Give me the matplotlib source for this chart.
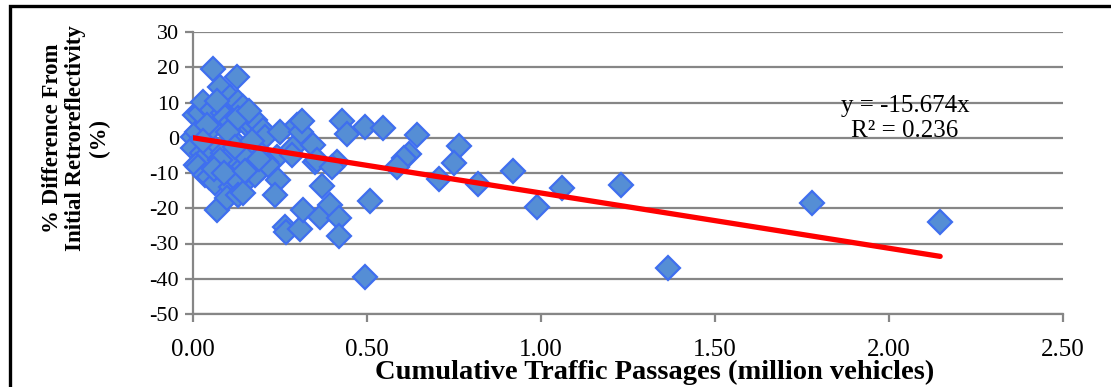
import numpy as np
import matplotlib.pyplot as plt
from matplotlib.patches import Rectangle

# Cumulative traffic passages (million vehicles) and % difference
passages = [
    0.000, 0.006, 0.011, 0.020, 0.030, 0.050, 0.058, 0.055, 0.058, 0.078,
    0.086, 0.092, 0.106, 0.110, 0.126, 0.130, 0.144, 0.164, 0.170, 0.178,
    0.200, 0.207, 0.115, 0.000, 0.025, 0.086, 0.184, 0.240, 0.020, 0.010,
    0.015, 0.135, 0.200, 0.210, 0.034, 0.045, 0.063, 0.110, 0.140, 0.178,
    0.215, 0.244, 0.126, 0.236, 0.068, 0.098, 0.130, 0.144, 0.110, 0.078,
    0.155, 0.287, 0.250, 0.300, 0.310, 0.313, 0.345, 0.285, 0.350, 0.356,
    0.414, 0.400, 0.370, 0.264, 0.268, 0.307, 0.316, 0.365, 0.394, 0.420,
    0.420, 0.494, 0.509, 0.428, 0.442, 0.494, 0.546, 0.645, 0.620, 0.605,
    0.586, 0.765, 0.750, 0.707, 0.820, 0.920, 0.988, 1.060, 1.230, 1.365,
    1.780, 2.147, 0.040, 0.070, 0.100, 0.120, 0.060, 0.090, 0.150, 0.170,
    0.190, 0.030, 0.130, 0.160,
]
pct_diff = [
    0.3, 6.5, 1.7, 7.0, 10.2, -1.4, 3.0, 8.0, 19.6, 14.5,
    7.0, 6.0, 11.6, 4.5, 17.2, 10.2, 8.8, 2.8, 3.7, 5.0,
    2.3, 0.3, -0.6, -2.8, -4.3, -4.3, -3.4, -5.4, -6.8, -7.7,
    -8.2, -7.1, -8.2, -7.0, -10.5, -11.0, -12.8, -13.9, -13.4, -10.5,
    -7.7, -11.9, -11.9, -16.2, -20.4, -17.0, -16.2, -15.7, -4.8, -6.3,
    -5.7, -2.8, 1.7, 3.7, 1.7, 4.8, -2.0, -4.8, -6.8, -6.3,
    -6.8, -8.2, -13.8, -25.2, -26.8, -26.0, -20.4, -22.4, -19.0, -22.8,
    -28.0, -39.5, -18.0, 4.8, 1.0, 3.1, 2.8, 0.9, -4.5, -5.8,
    -8.2, -2.4, -7.2, -11.7, -13.1, -9.4, -19.6, -14.2, -13.4, -36.9,
    -18.5, -23.9, 3.5, 10.5, 1.5, -2.5, -9.0, -10.0, -9.5, -1.0,
    -6.0, -1.0, 5.5, 7.5,
]
slope = -15.674
r_squared = 0.236

x_ticks = [0.0, 0.5, 1.0, 1.5, 2.0, 2.5]
y_ticks = [30, 20, 10, 0, -10, -20, -30, -40, -50]

plt.rcParams['font.family'] = ['Liberation Serif', 'DejaVu Serif']

fig = plt.figure(figsize=(11.11, 3.87), dpi=100)
ax = fig.add_axes([193 / 1111, 1 - 314 / 387, 870 / 1111, 282 / 387])

grid_col = '#868686'
ax.set_xlim(0, 2.5)
ax.set_ylim(-50, 30)
ax.set_xticks(x_ticks)
ax.set_xticklabels(['%.2f' % t for t in x_ticks], fontsize=18)
ax.set_yticks(y_ticks)
ax.set_yticklabels([str(t) for t in y_ticks], fontsize=16)
ax.yaxis.grid(True, color=grid_col, linewidth=1.6)
ax.set_axisbelow(True)
for s in ['top', 'right']:
    ax.spines[s].set_visible(False)
for s in ['left', 'bottom']:
    ax.spines[s].set_color(grid_col)
    ax.spines[s].set_linewidth(1.6)
ax.tick_params(axis='both', color=grid_col, width=1.6, length=6)
ax.tick_params(axis='x', pad=12)
ax.tick_params(axis='y', pad=4)

ax.plot(passages, pct_diff, 'D', markersize=12, markerfacecolor='#558ED5',
        markeredgecolor='#3F6FEF', markeredgewidth=1.6, clip_on=False,
        zorder=3)

# trend line through the origin
xfit = np.array([0, max(passages)])
ax.plot(xfit, slope * xfit, color='#FF0000', linewidth=3.8,
        solid_capstyle='round', zorder=4)

ax.text(2.046, 5.4, 'y = %.3fx\nR² = %.3f' % (slope, r_squared),
        ha='center', va='center', fontsize=18, linespacing=1.15)

ax.set_xlabel('Cumulative Traffic Passages (million vehicles)',
              fontsize=20.5, fontweight='bold')
ax.xaxis.set_label_coords((655 - 193) / 870, -(372 - 314) / 282)
ax.xaxis.label.set_va('center')
fig.text(76 / 1111, 1 - 138 / 387,
         '% Difference From\nInitial Retroreflectivity\n(%)',
         rotation=90, ha='center', va='center', fontsize=16.5,
         fontweight='bold', linespacing=1.15)

# outer frame (cropped on the right and bottom)
fig.patches.append(Rectangle((9.5 / 1111, -0.5), 1.5, 1.5 - 6 / 387,
                             transform=fig.transFigure, fill=False,
                             edgecolor='black', linewidth=2.4))

fig.savefig('out.png', dpi=100)
